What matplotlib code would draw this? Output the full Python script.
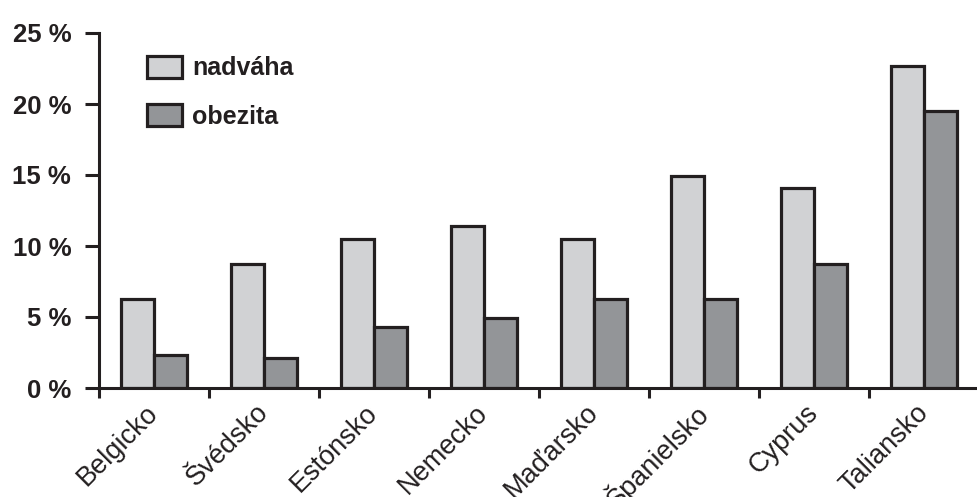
import matplotlib
matplotlib.use('Agg')
import matplotlib.pyplot as plt
import numpy as np

countries = ["Belgicko", "Švédsko", "Estónsko", "Nemecko", "Maďarsko",
             "Španielsko", "Cyprus", "Taliansko"]
nadvaha = [6.3, 8.7, 10.5, 11.4, 10.5, 14.9, 14.1, 22.7]
obezita = [2.3, 2.1, 4.3, 4.9, 6.3, 6.3, 8.7, 19.5]
y_ticks = [0, 5, 10, 15, 20, 25]
y_labels = ["0 %", "5 %", "10 %", "15 %", "20 %", "25 %"]

plt.rcParams['font.family'] = ['Liberation Sans', 'DejaVu Sans']
ink = "#231F20"

fig = plt.figure(figsize=(9.78, 4.97), dpi=100)
ax = fig.add_axes([99 / 978, 109 / 497, 879 / 978, 355 / 497])

x = np.arange(len(countries))
w = 0.3
ax.bar(x - w / 2, nadvaha, w, color="#D1D2D4", edgecolor=ink, linewidth=2.3, label="nadváha")
ax.bar(x + w / 2, obezita, w, color="#939598", edgecolor=ink, linewidth=2.3, label="obezita")

ax.set_xlim(-0.5, 7.49)
ax.set_ylim(0, 25)

for s in ["top", "right"]:
    ax.spines[s].set_visible(False)
for s in ["left", "bottom"]:
    ax.spines[s].set_linewidth(2.2)
    ax.spines[s].set_color(ink)

ax.set_yticks(y_ticks)
ax.set_yticklabels(y_labels, fontsize=18.5, fontweight="bold", color=ink)
ax.tick_params(axis="y", length=10, width=2.2, color=ink, pad=10)

ax.set_xticks(x)
ax.set_xticklabels(countries, fontsize=19.5, color=ink, rotation=45,
                   ha="right", va="center", rotation_mode="anchor")
ax.tick_params(axis="x", which="major", length=0, pad=15)
ax.set_xticks(np.arange(-0.5, 7, 1), minor=True)
ax.tick_params(axis="x", which="minor", length=7.5, width=2.2, color=ink)

leg = ax.legend(loc="upper left", bbox_to_anchor=(147 / 978, 1 - 56 / 497),
                bbox_transform=fig.transFigure, frameon=False,
                prop={"size": 18, "weight": "bold"}, handlelength=1.4,
                handleheight=0.95, labelspacing=0.95, handletextpad=0.4,
                borderpad=0, borderaxespad=0)
for t in leg.get_texts():
    t.set_color(ink)

fig.savefig("out.png", dpi=100)
plt.close(fig)
